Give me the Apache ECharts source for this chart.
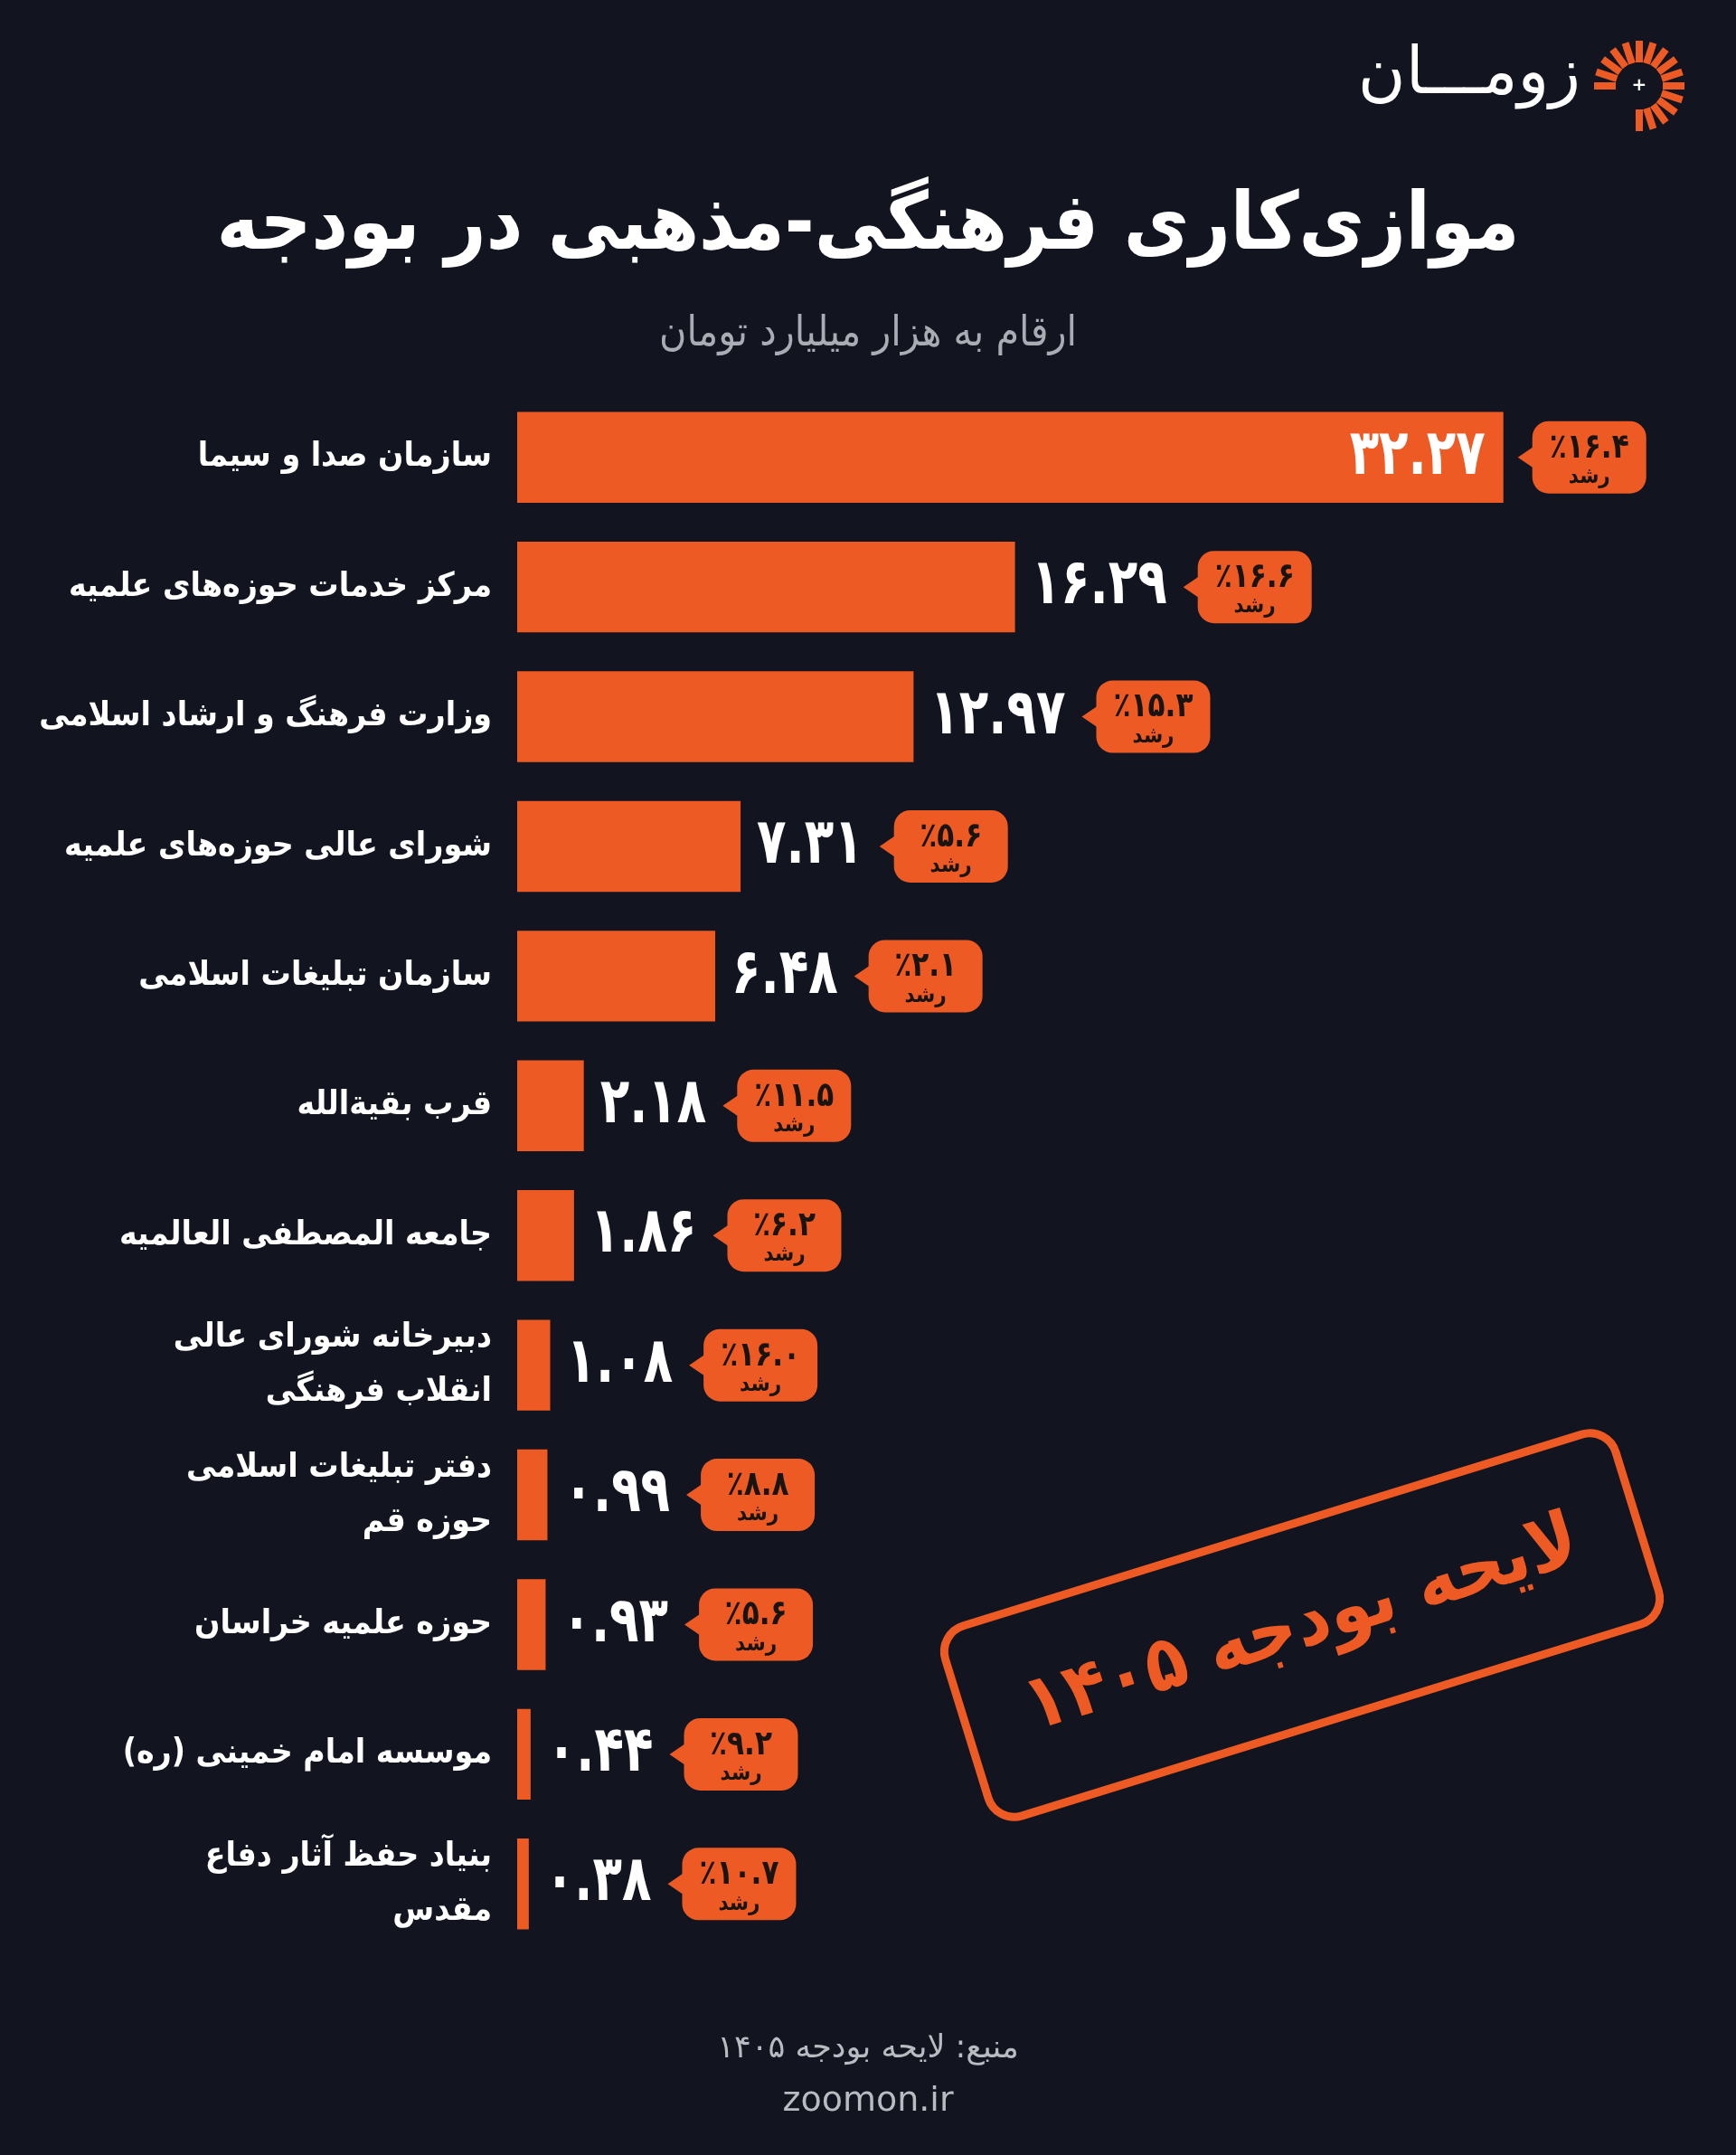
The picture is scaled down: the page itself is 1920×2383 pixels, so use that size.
<!DOCTYPE html>
<html>
<head>
<meta charset="utf-8">
<style>
html,body{margin:0;padding:0;background:#121520;}
#c{width:1920px;height:2383px;}
</style>
<script src="https://cdn.jsdelivr.net/npm/echarts@6/dist/echarts.min.js"></script>
</head>
<body>
<div id="c"></div>
<script>
const categories = [
  'سازمان صدا و سیما',
  'مرکز خدمات حوزه‌های علمیه',
  'وزارت فرهنگ و ارشاد اسلامی',
  'شورای عالی حوزه‌های علمیه',
  'سازمان تبلیغات اسلامی',
  'قرب بقیة‌الله',
  'جامعه المصطفی العالمیه',
  'دبیرخانه شورای عالی\nانقلاب فرهنگی',
  'دفتر تبلیغات اسلامی\nحوزه قم',
  'حوزه علمیه خراسان',
  'موسسه امام خمینی (ره)',
  'بنیاد حفظ آثار دفاع\nمقدس'
];
const values = [32.27, 16.29, 12.97, 7.31, 6.48, 2.18, 1.86, 1.08, 0.99, 0.93, 0.44, 0.38];
const growth = [16.4, 16.6, 15.3, 5.6, 2.1, 11.5, 6.2, 16.0, 8.8, 5.6, 9.2, 10.7];
const titleText = 'موازی‌کاری فرهنگی-مذهبی در بودجه';
const subtitleText = 'ارقام به هزار میلیارد تومان';
const sourceText = 'منبع: لایحه بودجه ۱۴۰۵';
const siteText = 'zoomon.ir';
const stampText = 'لایحه بودجه ۱۴۰۵';
const logoText = 'زومـــان';
const growthWord = 'رشد';

const ORANGE = '#EE5A24';
const BG = '#121520';
const FONT = "'DejaVu Sans', 'Noto Sans', sans-serif";
const CFONT = "'DejaVu Sans Condensed', 'DejaVu Sans', sans-serif";
const toFa = s => String(s).replace(/\d/g, d => '۰۱۲۳۴۵۶۷۸۹'[+d]);
const RLM = '\u200F';

const mctx = document.createElement('canvas').getContext('2d');
function measure(text, size, weight, fam) {
  mctx.font = weight + ' ' + size + 'px ' + fam;
  return mctx.measureText(text).width;
}

const VSIZE = 70, VSCALE = 0.76;
const maxV = Math.max.apply(null, values);

function renderItem(params, api) {
  const v = api.value(0), i = api.value(1), g = api.value(2);
  const end = api.coord([v, i]);
  const cy = end[1];
  const vt = toFa(v.toFixed(2));
  const w = measure(vt, VSIZE, 'bold', FONT) * VSCALE;
  const inside = v === maxV;
  const children = [];
  let badgeX;
  if (inside) {
    children.push({type: 'text', x: end[0] - 20, y: cy, scaleX: VSCALE,
      style: {text: vt, fill: '#fff', fontSize: VSIZE, fontWeight: 'bold', fontFamily: FONT, align: 'right', verticalAlign: 'middle'}});
    badgeX = end[0] + 16;
  } else {
    children.push({type: 'text', x: end[0] + 18, y: cy, scaleX: VSCALE,
      style: {text: vt, fill: '#fff', fontSize: VSIZE, fontWeight: 'bold', fontFamily: FONT, align: 'left', verticalAlign: 'middle'}});
    badgeX = end[0] + 18 + w + 18;
  }
  const BW = 126, BH = 80, TAIL = 16;
  children.push({type: 'polygon', shape: {points: [[badgeX, cy], [badgeX + TAIL + 6, cy - 15], [badgeX + TAIL + 6, cy + 15]]},
    style: {fill: ORANGE}});
  children.push({type: 'rect', shape: {x: badgeX + TAIL, y: cy - BH / 2, width: BW, height: BH, r: 18},
    style: {fill: ORANGE}});
  const bc = badgeX + TAIL + BW / 2;
  children.push({type: 'text', x: bc, y: cy - 10, scaleX: 0.82,
    style: {text: '٪' + toFa(g.toFixed(1)), fill: '#1a1410', fontSize: 38, fontWeight: 'bold', fontFamily: FONT, align: 'center', verticalAlign: 'middle'}});
  children.push({type: 'text', x: bc, y: cy + 22, scaleX: 0.9,
    style: {text: growthWord, fill: '#1a1410', fontSize: 24, fontWeight: 'bold', fontFamily: FONT, align: 'center', verticalAlign: 'middle'}});
  return {type: 'group', children: children};
}

// logo rays
const rays = [];
const LC = [1813, 95];
for (let k = 0; k <= 15; k++) {
  const a = (180 + k * 18) * Math.PI / 180;
  const c = Math.cos(a), s = Math.sin(a);
  rays.push({type: 'line', shape: {x1: LC[0] + c * 26, y1: LC[1] + s * 26, x2: LC[0] + c * 50, y2: LC[1] + s * 50},
    style: {stroke: ORANGE, lineWidth: 8}});
}
rays.push({type: 'text', x: LC[0], y: LC[1], style: {text: '+', fill: '#fff', fontSize: 20, fontWeight: 'bold', fontFamily: FONT, align: 'center', verticalAlign: 'middle'}});

const chart = echarts.init(document.getElementById('c'), null, {renderer: 'canvas'});
chart.setOption({
  backgroundColor: BG,
  animation: false,
  title: [
    {text: titleText, left: 'center', top: 203, textStyle: {color: '#fff', fontSize: 88, fontWeight: 'bold', fontFamily: CFONT}},
    {text: subtitleText, left: 'center', top: 342, textStyle: {color: '#a9acb3', fontSize: 46, fontWeight: 'normal', fontFamily: CFONT}},
    {text: sourceText, left: 'center', top: 2243, textStyle: {color: '#b9bbc0', fontSize: 35, fontWeight: 'normal', fontFamily: FONT}},
    {text: siteText, left: 'center', top: 2300, textStyle: {color: '#b9bbc0', fontSize: 38, fontWeight: 'normal', fontFamily: FONT}}
  ],
  grid: {left: 572, top: 434, width: 1183, bottom: 228, containLabel: false, outerBoundsMode: 'none'},
  xAxis: {type: 'value', min: 0, max: 35, show: false},
  yAxis: {
    type: 'category', data: categories, inverse: true,
    axisLine: {show: false}, axisTick: {show: false}, splitLine: {show: false},
    axisLabel: {color: '#fff', fontSize: 37, fontWeight: 'bold', fontFamily: CFONT, margin: 28, lineHeight: 60, align: 'right',
      formatter: v => v.split('\n').map(l => RLM + l + RLM).join('\n')}
  },
  series: [
    {type: 'bar', data: values, barCategoryGap: '30%', itemStyle: {color: ORANGE}, silent: true, z: 2},
    {type: 'custom', data: values.map((v, i) => [v, i, growth[i]]), encode: {x: 0, y: 1},
      renderItem: renderItem, clip: false, silent: true, z: 5}
  ],
  graphic: [
    {type: 'text', right: 1920 - 1748, top: 48, style: {text: logoText, fill: '#fff', fontSize: 72, fontWeight: 'normal', fontFamily: FONT}},
    {type: 'group', x: 0, y: 0, children: rays},
    {type: 'group', x: 1440, y: 1797, rotation: 0.30, children: [
      {type: 'rect', shape: {x: -388, y: -110, width: 776, height: 220, r: 30},
        style: {fill: 'none', stroke: ORANGE, lineWidth: 9}},
      {type: 'text', x: 0, y: 2, style: {text: RLM + stampText + RLM, fill: ORANGE, fontSize: 84, fontWeight: 'bold', fontFamily: CFONT, align: 'center', verticalAlign: 'middle'}}
    ]}
  ]
});
</script>
</body>
</html>
